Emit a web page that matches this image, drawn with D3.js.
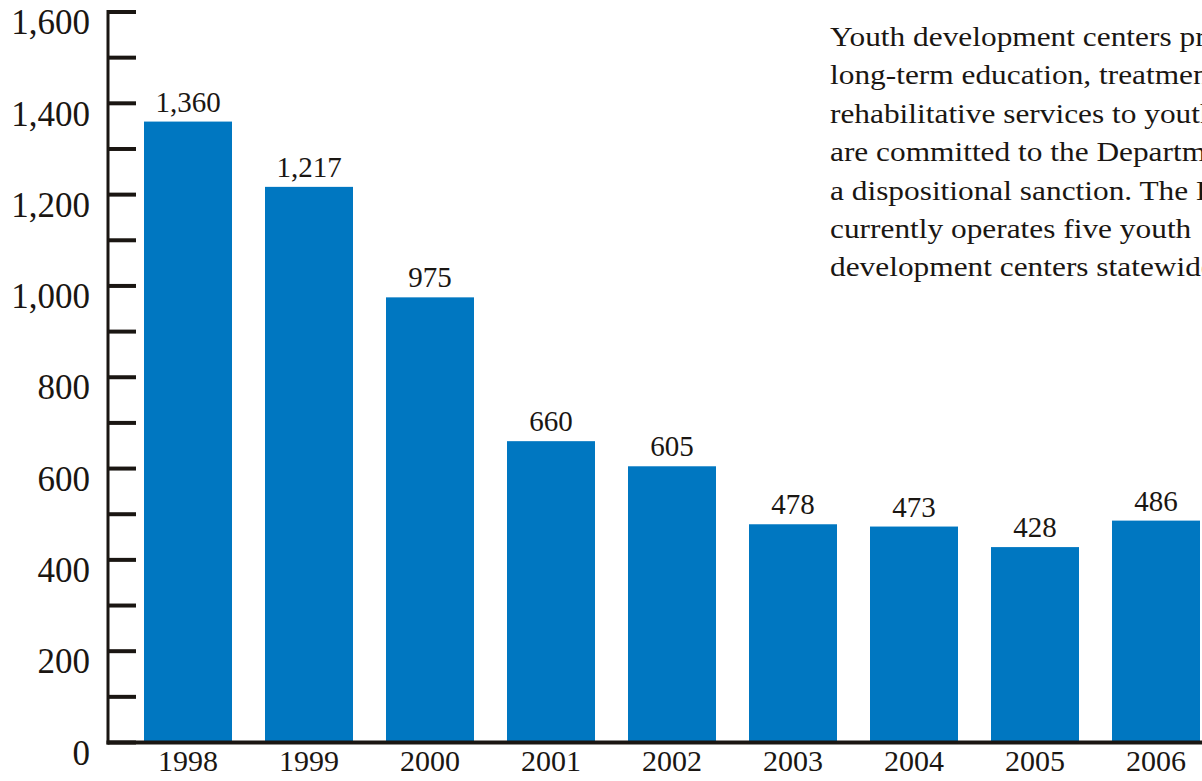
<!DOCTYPE html>
<html>
<head>
<meta charset="utf-8">
<script src="https://cdn.jsdelivr.net/npm/d3@7"></script>
<style>
  html, body { margin: 0; padding: 0; background: #fff; overflow: hidden; }
  svg { display: block; }
  text { font-family: "Liberation Serif", "Times New Roman", serif; fill: #1a1612; }
</style>
</head>
<body>
<svg id="chart" width="1202" height="781"></svg>
<script>
const years = ["1998", "1999", "2000", "2001", "2002", "2003", "2004", "2005", "2006"];
const values = [1360, 1217, 975, 660, 605, 478, 473, 428, 486];
const yTickValues = [0, 200, 400, 600, 800, 1000, 1200, 1400, 1600];
const yMinorTicks = [100, 300, 500, 700, 900, 1100, 1300, 1500];
const noteLines = [
  "Youth development centers provide",
  "long-term education, treatment and",
  "rehabilitative services to youth who",
  "are committed to the Department as",
  "a dispositional sanction. The Department",
  "currently operates five youth",
  "development centers statewide."
];

const svg = d3.select("#chart");
const axisX = 108;
const serif = "Liberation Serif, Times New Roman, serif";

const y = d3.scaleLinear().domain([0, 1600]).range([742.5, 12]);
const x = d3.scaleBand().domain(years).range([127.5, 127.5 + 9 * 121])
  .paddingInner(33 / 121).paddingOuter(33 / 121 / 2);

const barColor = "#0077c1";
const ink = "#1a1612";

// bars
svg.append("g").selectAll("rect").data(values).join("rect")
  .attr("x", (d, i) => x(years[i]))
  .attr("y", d => y(d))
  .attr("width", x.bandwidth())
  .attr("height", d => y(0) - y(d))
  .attr("fill", barColor);

// value labels
svg.append("g").selectAll("text").data(values).join("text")
  .attr("x", (d, i) => x(years[i]) + x.bandwidth() / 2)
  .attr("y", d => y(d) - 10)
  .attr("text-anchor", "middle")
  .attr("font-size", 29)
  .attr("font-family", serif)
  .attr("fill", ink)
  .text(d => d3.format(",")(d));

// y axis
const yAxis = d3.axisLeft(y).tickValues(yTickValues).tickFormat(d3.format(",")).tickSize(0).tickPadding(0);
const gy = svg.append("g").attr("transform", `translate(${axisX},0)`).call(yAxis);
gy.select(".domain").remove();
gy.selectAll("text")
  .attr("x", -18)
  .attr("dy", "0.62em")
  .attr("font-size", 35)
  .attr("font-family", serif)
  .attr("fill", ink);

// axis vertical line
svg.append("line")
  .attr("x1", axisX).attr("x2", axisX)
  .attr("y1", y(1600) - 2).attr("y2", y(0) + 2)
  .attr("stroke", ink).attr("stroke-width", 3);

// tick marks (major + minor, both drawn to the right)
svg.append("g").selectAll("line").data(yTickValues.concat(yMinorTicks)).join("line")
  .attr("x1", axisX).attr("x2", 136)
  .attr("y1", d => y(d)).attr("y2", d => y(d))
  .attr("stroke", ink).attr("stroke-width", 4);

// x axis baseline
svg.append("line")
  .attr("x1", axisX - 1.5).attr("x2", 1202)
  .attr("y1", y(0)).attr("y2", y(0))
  .attr("stroke", ink).attr("stroke-width", 4);

// x labels
const xAxis = d3.axisBottom(x).tickSize(0).tickPadding(0);
const gx = svg.append("g").attr("transform", `translate(0,${y(0)})`).call(xAxis);
gx.select(".domain").remove();
gx.selectAll("text")
  .attr("y", 28)
  .attr("dy", 0)
  .attr("font-size", 30)
  .attr("font-family", serif)
  .attr("fill", ink);

// note text (slightly wide-set serif in the reference)
svg.append("g").attr("transform", "translate(830,0) scale(1.12,1)")
  .selectAll("text").data(noteLines).join("text")
  .attr("x", 0)
  .attr("y", (d, i) => 46 + i * 38.4)
  .attr("font-size", 28)
  .attr("font-family", serif)
  .attr("fill", ink)
  .text(d => d);
</script>
</body>
</html>
